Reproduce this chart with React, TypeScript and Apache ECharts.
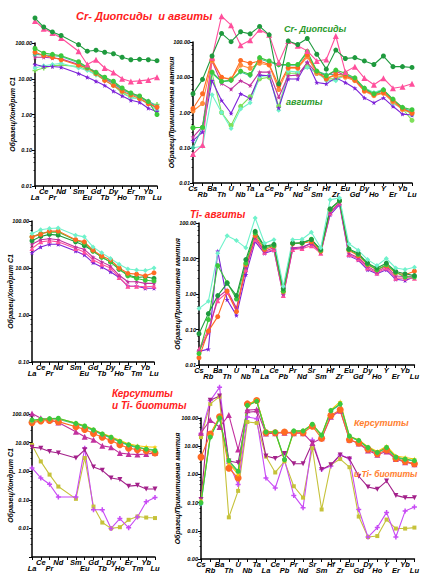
import React, { useEffect, useRef } from 'react';
import * as echarts from 'echarts';

// ---------- categories ----------
const reeCategories = ['La', 'Ce', 'Pr', 'Nd', 'Pm', 'Sm', 'Eu', 'Gd', 'Tb', 'Dy', 'Ho', 'Er', 'Tm', 'Yb', 'Lu'];
const traceCategories = ['Cs', 'Rb', 'Ba', 'Th', 'U', 'Nb', 'Ta', 'La', 'Ce', 'Pb', 'Pr', 'Nd', 'Sr', 'Sm', 'Hf', 'Zr', 'Eu', 'Gd', 'Dy', 'Ho', 'Y', 'Er', 'Yb', 'Lu'];

// ---------- panel 1: Cr-diopsides & augites, REE / chondrite (La..Lu without Pm) ----------
const p1CrDiopDark = [500, 280, 204, 162, 90, 59, 63, 55, 50, 40, 34, 35, 34, 32];
const p1CrDiopPink = [410, 250, 190, 138, 59, 25, 34, 20, 15, 10, 8.4, 8.7, 9.3, 11];
const p1AugGreen = [70, 52, 48, 44, 30, 21, 15, 11, 8.5, 5.5, 4, 3.3, 2.3, 1.0];
const p1AugTeal = [48, 46, 44, 42, 28, 20, 15, 10.5, 8, 5, 3.8, 3, 2.4, 1.7];
const p1AugOrange = [55, 45, 40, 34, 24, 20, 14, 9, 6.5, 4.5, 3.5, 2.8, 2.0, 1.6];
const p1AugMagenta = [40, 40, 38, 36, 25, 20, 16, 10, 7.5, 5, 4, 3.2, 2.2, 1.5];
const p1AugPurple = [25, 22, 22, 21, 14, 11, 8.5, 6.5, 4.5, 3.3, 2.5, 2.2, 1.5, 1.2];
const p1AugCyan = [20, 23, 25, 27, 20, 17, 13, 10, 7, 4.5, 3, 2.7, 2.2, 1.3];
const p1AugLime = [17, 20, 23, 24, 22, 18, 13, 9, 6.5, 4, 3, 2.7, 2.0, 1.9];

// ---------- panel 2: Cr-diopsides & augites, trace / primitive mantle ----------
const p2CrDiopDark = [3.4, 8.7, 40, 175, 102, 195, 170, 277, 160, 6.5, 107, 85, 126, 45, 17, 59, 34, 36, 29, 23, 40, 20, 20, 19];
const p2CrDiopPink = [0.066, 0.12, 36, 540, 300, 81, 112, 223, 160, 26, 107, 78, 56, 29, 32, 148, 14, 20, 9.5, 6.1, 9.4, 4.9, 5.4, 6.5];
const p2AugGreen = [0.37, 0.38, 14, 7.6, 8.3, 15, 12, 36, 29, 23, 23, 23, 54, 15, 11, 16, 13, 9.6, 4.9, 3.4, 4.4, 2.4, 1.4, 1.2];
const p2AugTeal = [0.1, 0.38, 13, 7.5, 8, 14, 11, 33, 27, 22, 22, 22, 50, 15, 12, 12, 12, 9, 4.6, 3.3, 4.2, 2.3, 1.3, 1.1];
const p2AugOrange = [1.3, 3.4, 32, 10, 8.5, 30, 25, 29, 23, 5.8, 19, 19, 43, 14.5, 8.9, 12.4, 11, 8.3, 4.2, 3.2, 3.7, 2.2, 1.3, 0.95];
const p2AugOrange2 = [1.1, 1.8, 29, 9.8, 9, 22, 18, 25, 22, 4.5, 18, 18, 38, 13, 9.5, 11, 10, 8, 4, 3, 3.5, 2, 1.2, 1.0];
const p2AugMagenta = [0.2, 0.4, 29, 6.7, 4.6, 8, 5.8, 14, 14, 2.7, 11, 11.5, 26, 13, 11, 15, 11, 8.9, 4.4, 3.2, 4.4, 2.2, 1.4, 0.95];
const p2AugPurple = [0.16, 0.28, 8, 2.2, 0.95, 3.4, 2.5, 11.5, 11, 1.35, 8.9, 8.9, 27, 7.1, 6.5, 9.6, 7.1, 4.9, 2.6, 1.9, 2.6, 1.5, 0.9, 0.85];
const p2AugCyan = [0.1, 0.11, 3.2, 1.0, 0.35, 1.26, 1.9, 10.3, 11.5, 1.15, 15, 14, 19, 14, 8, 8, 12, 8.9, 5, 3.7, 4.6, 1.8, 1.35, 0.85];
const p2AugLime = [0.37, 0.38, 13, 1.0, 0.43, 1.5, 2.8, 9, 10, 1.5, 13, 13, 20, 13, 9, 9, 11, 8.5, 4.5, 3.3, 4.2, 2, 1.3, 0.6];

// ---------- panel 3: Ti-augites, REE / chondrite ----------
const p3TiCyan = [54, 65, 69, 71, 50, 46, 28, 21, 16, 12, 9.5, 9.1, 8.8, 10];
const p3TiOrange = [46, 52, 61, 61, 40, 36, 24, 18, 15, 10, 7.7, 7.4, 6.8, 7.9];
const p3TiGreen = [46, 54, 58, 58, 39, 34, 23, 17, 13.5, 9.5, 6.8, 6, 5.5, 5.3];
const p3TiDarkGreen = [38, 47, 52, 50, 36, 30, 23, 17, 13.5, 9.4, 7.1, 6.3, 6.5, 6];
const p3TiMagenta = [32, 40, 42, 40, 28, 25, 17, 13.5, 11, 7, 5.1, 5.1, 4.7, 4.7];
const p3TiPink = [26, 36, 38, 36, 26, 22, 15, 12, 10, 6.3, 4.1, 4.1, 4, 4.1];
const p3TiPurple = [21, 28, 32, 32, 23, 19, 13, 10.5, 8.3, 6.3, 4.1, 4.1, 3.7, 3.7];

// ---------- panel 4: Ti-augites, trace / primitive mantle ----------
const p4TiCyan = [0.39, 0.62, 14, 44, 32, 20, 138, 27, 34, 1.66, 34, 35, 55, 20, 450, 510, 26, 17, 9.3, 6.3, 10, 5.4, 4.9, 5.7];
const p4TiDarkGreen = [0.076, 0.28, 0.9, 2.0, 0.9, 9.3, 58, 22, 25, 1.4, 27, 28, 34, 18, 250, 425, 18.5, 14, 7.4, 5.4, 7.4, 4.3, 3.7, 3.3];
const p4TiGreen = [0.021, 0.19, 6.3, 2.1, 0.72, 7.4, 52, 20, 23, 1.2, 27, 27, 35, 17, 240, 420, 18, 13, 7, 4.8, 6.7, 4.1, 3.0, 3.0];
const p4TiOrange = [0.016, 0.09, 0.23, 1.2, 0.32, 6.7, 44, 18, 22, 1.15, 26, 27, 30, 16, 240, 420, 17, 12, 6.7, 4.8, 6.3, 3.9, 3.5, 4.4];
const p4TiMagenta = [0.025, 0.08, 0.8, 1.3, 0.4, 5.5, 38, 16, 20, 1.0, 20, 21, 26, 15, 200, 380, 14, 10.5, 6, 4.2, 6, 3.2, 3.1, 3.2];
const p4TiPink = [0.028, 0.1, 0.65, 1.1, 0.36, 4.8, 34, 15, 18, 0.9, 18, 19, 23, 14, 190, 365, 13, 9.7, 5.4, 3.9, 5.4, 2.8, 2.8, 2.8];
const p4TiPurple = [0.024, 0.028, 16, 0.69, 0.25, 3.5, 30, 14, 17, 0.95, 18.5, 20, 28, 15, 170, 330, 12, 9, 4.8, 3.7, 4.8, 2.6, 2.4, 3.0];

// ---------- panel 5: kaersutites & Ti-biotites, REE / chondrite ----------
const p5KerGreen = [62, 65, 69, 71, 47, 38, 28, 20, 15.5, 11, 8.4, 7, 5.9, 5.2];
const p5KerYellow = [58, 63, 68, 70, 48, 39, 29, 21, 16, 12, 9, 7.8, 7.2, 6.9];
const p5KerTeal = [56, 62, 66, 66, 45, 36, 26, 19, 14.5, 10.5, 8, 6.6, 6, 5.6];
const p5KerOrange = [50, 57, 59, 54, 36, 29, 21, 15.5, 11.8, 8.4, 6.4, 5.6, 5.2, 4.3];
const p5KerMagenta = [105, 71, 62, 50, 24, 16, 12.5, 7.7, 6.9, 4.3, 4, 3.8, 4, 4.3];
const p5BioDark = [6.9, 6.4, 4.9, 4.3, 2.9, 5.6, 1.4, 1.07, 0.58, 0.51, 0.3, 0.32, 0.24, 0.24];
const p5BioViolet = [1.3, 0.58, 0.35, 0.126, 0.126, 6.4, 0.045, 0.045, 0.01, 0.022, 0.0105, 0.025, 0.085, 0.12];
const p5BioOlive = [8.3, 2.2, 0.76, 0.29, 0.108, 2.9, 0.058, 0.016, 0.01, 0.011, 0.02, 0.026, 0.024, 0.023];

// ---------- panel 6: kaersutites & Ti-biotites, trace / primitive mantle ----------
const p6KerOrange = [4.1, 27, 110, 1.66, 0.74, 316, 415, 30, 30, 32, 30, 30, 51, 19, 124, 195, 17, 13, 7.8, 5.4, 7.4, 3.7, 2.9, 2.4];
const p6KerGreen = [0.1, 21, 100, 3.1, 1.3, 280, 390, 32, 32, 3.3, 35, 35, 60, 25, 185, 317, 23, 16, 9, 6, 9, 4.1, 3.5, 3.1];
const p6KerYellow = [0.12, 24, 105, 2.5, 1.0, 290, 430, 33, 33, 3.0, 34, 36, 58, 24, 195, 380, 22, 17, 9.5, 6.5, 10, 4.5, 4, 3.5];
const p6KerTeal = [0.09, 22, 95, 2.8, 1.2, 270, 400, 31, 32, 3.5, 33, 34, 56, 23, 175, 300, 21, 15.5, 8.5, 5.8, 8.6, 4, 3.3, 3.0];
const p6KerMagenta = [30, 85, 48, 127, 7.6, 190, 200, 28, 29, 30, 29, 29, 13, 19, 110, 180, 17, 12.5, 7, 5, 6.5, 3.5, 2.7, 2.3];
const p6BioDark = [0.13, 430, 600, 3.0, 2.6, 160, 170, 4.5, 3.7, 5.5, 2.4, 2.4, 13, 1.5, 2.2, 4.9, 3.5, 0.86, 0.36, 0.3, 0.58, 0.18, 0.15, 0.15];
const p6BioViolet = [28, 415, 1220, 2.5, 0.44, 108, 95, 0.74, 0.33, 3.3, 0.18, 0.066, 16.5, 1.5, 2, 4.9, 3.7, 0.057, 0.006, 0.013, 0.045, 0.006, 0.05, 0.07];
const p6BioOlive = [21, 316, 570, 0.03, 0.26, 72, 67, 4.3, 1.17, 2.9, 0.38, 0.15, 8.5, 0.057, 2.2, 3.5, 1.8, 0.032, 0.006, 0.0065, 0.025, 0.012, 0.012, 0.013];

// ---------- styling ----------
const C = {
  darkGreen: '#1f9a3e',
  green: '#3cc83c',
  lime: '#7fe05a',
  cyan: '#6ff2cb',
  teal: '#3fbf9f',
  orange: '#ff6a22',
  orange2: '#ff8c3c',
  pink: '#ff4f9c',
  magenta: '#c2309e',
  purple: '#7d22d8',
  violet: '#c84bf5',
  olive: '#c6c23a',
  yellow: '#f7c800',
  darkMagenta: '#a3208a',
};

const SYM = {
  circle: 'circle',
  triangle: 'triangle',
  diamond: 'diamond',
  rect: 'rect',
  star: 'path://M5,0 L6.2,3.5 L10,3.6 L7,5.9 L8.1,9.5 L5,7.4 L1.9,9.5 L3,5.9 L0,3.6 L3.8,3.5 Z',
  plus: 'path://M3.5,0 H6.5 V3.5 H10 V6.5 H6.5 V10 H3.5 V6.5 H0 V3.5 H3.5 Z',
  invTriangle: 'path://M0,0 L10,0 L5,9 Z',
};

const withPm = (arr: number[]) => [...arr.slice(0, 4), null, ...arr.slice(4)];

const seriesTable: { panel: number; data: (number | null)[]; color: string; symbol: string; size?: number }[] = [
  { panel: 0, data: withPm(p1AugLime), color: C.lime, symbol: SYM.plus },
  { panel: 0, data: withPm(p1AugCyan), color: C.cyan, symbol: SYM.diamond },
  { panel: 0, data: withPm(p1AugPurple), color: C.purple, symbol: SYM.star },
  { panel: 0, data: withPm(p1AugMagenta), color: C.magenta, symbol: SYM.star },
  { panel: 0, data: withPm(p1AugTeal), color: C.teal, symbol: SYM.diamond },
  { panel: 0, data: withPm(p1AugOrange), color: C.orange, symbol: SYM.circle },
  { panel: 0, data: withPm(p1AugGreen), color: C.green, symbol: SYM.circle },
  { panel: 0, data: withPm(p1CrDiopPink), color: C.pink, symbol: SYM.triangle, size: 6 },
  { panel: 0, data: withPm(p1CrDiopDark), color: C.darkGreen, symbol: SYM.circle },

  { panel: 1, data: p2AugLime, color: C.lime, symbol: SYM.circle },
  { panel: 1, data: p2AugCyan, color: C.cyan, symbol: SYM.diamond },
  { panel: 1, data: p2AugPurple, color: C.purple, symbol: SYM.star },
  { panel: 1, data: p2AugMagenta, color: C.magenta, symbol: SYM.star },
  { panel: 1, data: p2AugTeal, color: C.teal, symbol: SYM.diamond },
  { panel: 1, data: p2AugOrange2, color: C.orange2, symbol: SYM.circle },
  { panel: 1, data: p2AugOrange, color: C.orange, symbol: SYM.circle },
  { panel: 1, data: p2AugGreen, color: C.green, symbol: SYM.circle },
  { panel: 1, data: p2CrDiopPink, color: C.pink, symbol: SYM.triangle, size: 6 },
  { panel: 1, data: p2CrDiopDark, color: C.darkGreen, symbol: SYM.circle },

  { panel: 2, data: withPm(p3TiPurple), color: C.purple, symbol: SYM.star },
  { panel: 2, data: withPm(p3TiPink), color: C.pink, symbol: SYM.triangle },
  { panel: 2, data: withPm(p3TiMagenta), color: C.magenta, symbol: SYM.star },
  { panel: 2, data: withPm(p3TiDarkGreen), color: C.darkGreen, symbol: SYM.circle },
  { panel: 2, data: withPm(p3TiGreen), color: C.green, symbol: SYM.circle },
  { panel: 2, data: withPm(p3TiOrange), color: C.orange, symbol: SYM.circle },
  { panel: 2, data: withPm(p3TiCyan), color: C.cyan, symbol: SYM.diamond },

  { panel: 3, data: p4TiPurple, color: C.purple, symbol: SYM.star },
  { panel: 3, data: p4TiPink, color: C.pink, symbol: SYM.triangle },
  { panel: 3, data: p4TiMagenta, color: C.magenta, symbol: SYM.star },
  { panel: 3, data: p4TiOrange, color: C.orange, symbol: SYM.circle },
  { panel: 3, data: p4TiGreen, color: C.green, symbol: SYM.circle },
  { panel: 3, data: p4TiDarkGreen, color: C.darkGreen, symbol: SYM.circle },
  { panel: 3, data: p4TiCyan, color: C.cyan, symbol: SYM.diamond },

  { panel: 4, data: withPm(p5BioOlive), color: C.olive, symbol: SYM.rect, size: 4 },
  { panel: 4, data: withPm(p5BioViolet), color: C.violet, symbol: SYM.plus },
  { panel: 4, data: withPm(p5BioDark), color: C.darkMagenta, symbol: SYM.invTriangle },
  { panel: 4, data: withPm(p5KerMagenta), color: C.magenta, symbol: SYM.triangle, size: 6 },
  { panel: 4, data: withPm(p5KerOrange), color: C.orange, symbol: SYM.circle, size: 7 },
  { panel: 4, data: withPm(p5KerTeal), color: C.teal, symbol: SYM.diamond },
  { panel: 4, data: withPm(p5KerYellow), color: C.yellow, symbol: SYM.star },
  { panel: 4, data: withPm(p5KerGreen), color: C.green, symbol: SYM.circle },

  { panel: 5, data: p6BioOlive, color: C.olive, symbol: SYM.rect, size: 4 },
  { panel: 5, data: p6BioViolet, color: C.violet, symbol: SYM.plus },
  { panel: 5, data: p6BioDark, color: C.darkMagenta, symbol: SYM.invTriangle },
  { panel: 5, data: p6KerMagenta, color: C.magenta, symbol: SYM.triangle, size: 6 },
  { panel: 5, data: p6KerOrange, color: C.orange, symbol: SYM.circle, size: 7 },
  { panel: 5, data: p6KerTeal, color: C.teal, symbol: SYM.diamond },
  { panel: 5, data: p6KerYellow, color: C.yellow, symbol: SYM.star },
  { panel: 5, data: p6KerGreen, color: C.green, symbol: SYM.circle },
];

const FONT = '"Liberation Sans", Arial, sans-serif';

const panels = [
  { left: 35, top: 43, width: 122, height: 143, min: 0.01, max: 100, cats: reeCategories, lowerOdd: false, name: 'Образец/Хондрит C1', nameGap: 19, hideMin: false },
  { left: 193, top: 42, width: 219, height: 141, min: 0.01, max: 100, cats: traceCategories, lowerOdd: true, name: 'Образец/Примитивная мантия', nameGap: 18, hideMin: false },
  { left: 32, top: 221, width: 122, height: 141, min: 0.1, max: 100, cats: reeCategories, lowerOdd: false, name: 'Образец/Хондрит C1', nameGap: 18, hideMin: false },
  { left: 199, top: 223, width: 218, height: 142, min: 0.01, max: 100, cats: traceCategories, lowerOdd: true, name: 'Образец/Примитивная мантия', nameGap: 18, hideMin: false },
  { left: 32, top: 414, width: 123, height: 143, min: 0.001, max: 100, cats: reeCategories, lowerOdd: false, name: 'Образец/Хондрит C1', nameGap: 18, hideMin: true },
  { left: 201, top: 418, width: 216, height: 142, min: 0.001, max: 100, cats: traceCategories, lowerOdd: true, name: 'Образец/Примитивная мантия', nameGap: 20, hideMin: false },
];

const labelBase = { fontSize: 7.5, fontWeight: 'bold', fontStyle: 'italic', fontFamily: FONT, color: '#000' };

function buildOption() {
  const grid = panels.map((p) => ({ left: p.left, top: p.top, width: p.width, height: p.height, containLabel: false }));
  const xAxis = panels.map((p, i) => ({
    type: 'category',
    gridIndex: i,
    data: p.cats,
    boundaryGap: false,
    axisLine: { lineStyle: { color: '#000', width: 1.5 } },
    axisTick: { show: true, length: 3, lineStyle: { color: '#000', width: 1 } },
    axisLabel: {
      interval: 0,
      margin: 1,
      hideOverlap: false,
      formatter: (v: string, idx: number) => {
        if (v === 'Pm') return '';
        const lower = p.lowerOdd ? idx % 2 === 1 : idx % 2 === 0;
        return lower ? `{l|${v}}` : `{u|${v}}`;
      },
      rich: {
        u: { ...labelBase },
        l: { ...labelBase, padding: [6, 0, 0, 0] },
      },
    },
    splitLine: { show: false },
  }));
  const yAxis = panels.map((p, i) => ({
    type: 'log',
    logBase: 10,
    gridIndex: i,
    min: p.min,
    max: p.max,
    interval: 1,
    splitNumber: 8,
    axisLine: { show: true, lineStyle: { color: '#000', width: 1.5 } },
    axisTick: { show: true, length: 3, lineStyle: { color: '#000', width: 1 } },
    minorTick: { show: true, splitNumber: 5, length: 1.5, lineStyle: { color: '#000', width: 0.8 } },
    axisLabel: {
      fontSize: 5.5,
      fontWeight: 'bold',
      fontStyle: 'italic',
      fontFamily: FONT,
      color: '#000',
      margin: 3,
      hideOverlap: false,
      showMinLabel: true,
      showMaxLabel: true,
      formatter: (v: number) => (p.hideMin && v < 0.005 ? '' : v.toFixed(2)),
    },
    splitLine: { show: false },
    name: p.name,
    nameLocation: 'middle',
    nameRotate: 90,
    nameGap: p.nameGap,
    nameMoveOverlap: false,
    nameTextStyle: { fontSize: 7, fontWeight: 'bold', fontStyle: 'italic', fontFamily: FONT, color: '#000' },
  }));
  const series = seriesTable.map((s) => ({
    type: 'line',
    xAxisIndex: s.panel,
    yAxisIndex: s.panel,
    data: s.data,
    symbol: s.symbol,
    symbolSize: s.size ?? 5,
    connectNulls: true,
    clip: false,
    silent: true,
    lineStyle: { color: s.color, width: 1.1 },
    itemStyle: { color: s.color },
  }));

  const title = (text: string, x: number, y: number, color: string, size: number) => ({
    type: 'text',
    x,
    y,
    z: 100,
    style: { text, fill: color, font: `italic bold ${size}px ${FONT}`, textVerticalAlign: 'middle' },
  });

  const graphic = [
    title('Cr- Диопсиды  и авгиты', 76, 16, '#ff2020', 11),
    title('Cr- Диопсиды', 284, 29, '#2a9a2a', 9),
    title('авгиты', 286, 102, '#2a9a2a', 9),
    title('Ti- авгиты', 190, 214, '#ff2020', 10),
    title('Керсутиты', 112, 393, '#ff2020', 10),
    title('и Ti- биотиты', 112, 405, '#ff2020', 10),
    title('Керсутиты', 354, 423, '#ff8030', 9),
    title('и Ti- биотиты', 354, 474, '#ff8030', 8.5),
  ];

  return { animation: false, backgroundColor: '#ffffff', grid, xAxis, yAxis, series, graphic };
}

export default function App() {
  const ref = useRef<HTMLDivElement>(null);
  useEffect(() => {
    if (!ref.current) return;
    const chart = echarts.init(ref.current, undefined, { renderer: 'svg' });
    chart.setOption(buildOption() as any);
    return () => chart.dispose();
  }, []);
  return <div ref={ref} style={{ position: 'fixed', left: 0, top: 0, width: 422, height: 574, background: '#fff' }} />;
}
